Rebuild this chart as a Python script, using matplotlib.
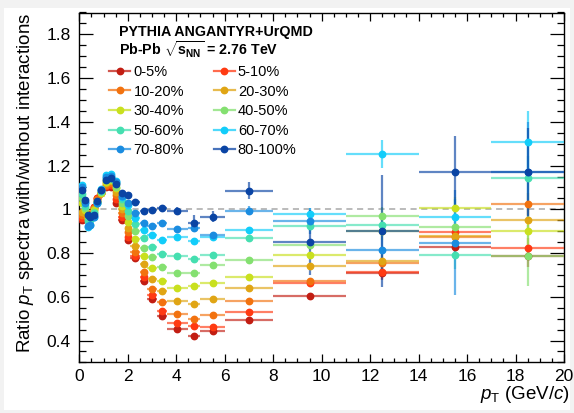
import matplotlib
matplotlib.use("Agg")
import matplotlib.pyplot as plt
from matplotlib.lines import Line2D
from matplotlib.patches import Rectangle
from matplotlib.ticker import MultipleLocator
from matplotlib.colors import to_rgba

plt.rcParams['font.family'] = ['Liberation Sans', 'DejaVu Sans']
plt.rcParams['mathtext.fontset'] = 'custom'
plt.rcParams['mathtext.rm'] = 'Liberation Sans'
plt.rcParams['mathtext.it'] = 'Liberation Sans:italic'
plt.rcParams['mathtext.bf'] = 'Liberation Sans:bold'

# ---------------- data ----------------
pt = [0.1, 0.25, 0.35, 0.45, 0.6, 0.75, 0.9, 1.1, 1.3, 1.5, 1.75, 2.0, 2.3, 2.65,
      3.0, 3.4, 4.05, 4.75, 5.5, 7.0, 9.5, 12.5, 15.5, 18.5]
pt_halfwidth = [0.05, 0.05, 0.05, 0.05, 0.1, 0.05, 0.1, 0.1, 0.1, 0.1, 0.15, 0.1, 0.2, 0.15,
                0.2, 0.2, 0.45, 0.25, 0.5, 1.0, 1.5, 1.5, 1.5, 1.5]

centrality = ["0-5%", "5-10%", "10-20%", "20-30%", "30-40%",
              "40-50%", "50-60%", "60-70%", "70-80%", "80-100%"]
colors = ["#c21d12", "#ff3a12", "#f2720f", "#e0a514", "#c9e01e",
          "#84e070", "#45dfb0", "#12cdfa", "#1a8ce0", "#0a44a4"]

ratio_0_5 = [0.95, 0.97, 0.975, 0.98, 1.01, 1.05, 1.075, 1.104, 1.104, 1.031, 0.95, 0.86, 0.776, 0.673,
             0.589, 0.513, 0.455, 0.421, 0.444, 0.493, 0.604, 0.707, 0.829, 0.788]
ratio_5_10 = [0.96, 0.975, 0.975, 0.98, 1.01, 1.05, 1.075, 1.107, 1.111, 1.046, 0.965, 0.872, 0.786, 0.689,
              0.606, 0.536, 0.482, 0.466, 0.461, 0.531, 0.664, 0.713, 0.898, 0.821]
ratio_10_20 = [0.975, 0.98, 0.97, 0.975, 1.005, 1.045, 1.075, 1.111, 1.12, 1.066, 0.985, 0.895, 0.806, 0.715,
               0.634, 0.576, 0.52, 0.50, 0.517, 0.582, 0.673, 0.753, 0.873, 1.026]
ratio_20_30 = [0.99, 0.985, 0.965, 0.97, 1.0, 1.04, 1.075, 1.12, 1.13, 1.081, 1.0, 0.916, 0.834, 0.748,
               0.682, 0.626, 0.58, 0.568, 0.589, 0.638, 0.74, 0.765, 0.88, 0.951]
ratio_30_40 = [1.03, 0.995, 0.96, 0.965, 0.995, 1.035, 1.075, 1.127, 1.134, 1.096, 1.015, 0.944, 0.866, 0.786,
               0.73, 0.672, 0.641, 0.649, 0.662, 0.692, 0.79, 0.90, 1.008, 0.899]
ratio_40_50 = [1.05, 1.005, 0.955, 0.96, 0.99, 1.035, 1.08, 1.134, 1.139, 1.104, 1.03, 0.969, 0.90, 0.824,
               0.78, 0.737, 0.707, 0.71, 0.746, 0.768, 0.835, 0.971, 0.921, 0.788]
ratio_50_60 = [1.07, 1.015, 0.945, 0.95, 0.985, 1.03, 1.085, 1.145, 1.15, 1.12, 1.045, 0.994, 0.933, 0.867,
               0.829, 0.795, 0.788, 0.773, 0.792, 0.867, 0.923, 0.927, 0.789, 1.143]
ratio_60_70 = [1.11, 1.035, 0.92, 0.93, 0.965, 1.03, 1.095, 1.157, 1.162, 1.13, 1.055, 1.018, 0.959, 0.905,
               0.881, 0.86, 0.873, 0.855, 0.875, 0.905, 0.977, 1.252, 0.966, 1.308]
ratio_70_80 = [1.10, 1.03, 0.925, 0.93, 0.965, 1.03, 1.09, 1.15, 1.154, 1.127, 1.06, 1.029, 0.982, 0.937,
               0.925, 0.936, 0.91, 0.913, 0.881, 0.994, 0.947, 0.815, 0.847, 1.169]
ratio_80_100 = [1.09, 1.043, 0.974, 0.965, 0.975, 1.04, 1.089, 1.134, 1.142, 1.115, 1.076, 1.064, 1.035, 0.992,
                0.995, 1.005, 0.994, 0.939, 0.966, 1.085, 0.849, 0.902, 1.169, 1.17]

# statistical errors: small for pT < 4 GeV/c, then per bin (4.05 ... 18.5)
err_low_pt = [0.004, 0.004, 0.004, 0.004, 0.004, 0.004, 0.004, 0.004, 0.004, 0.004,
              0.004, 0.004, 0.005, 0.005, 0.006, 0.006]
err_0_5 = [0.008, 0.008, 0.01, 0.012, 0.015, 0.03, 0.03, 0.05]
err_5_10 = [0.008, 0.008, 0.01, 0.012, 0.015, 0.03, 0.03, 0.05]
err_10_20 = [0.008, 0.008, 0.01, 0.012, 0.015, 0.03, 0.03, 0.05]
err_20_30 = [0.008, 0.008, 0.01, 0.012, 0.015, 0.03, 0.04, 0.06]
err_30_40 = [0.008, 0.008, 0.01, 0.012, 0.015, 0.04, 0.05, 0.07]
err_40_50 = [0.008, 0.008, 0.01, 0.012, 0.02, 0.04, 0.06, 0.14]
err_50_60 = [0.008, 0.01, 0.01, 0.015, 0.02, 0.05, 0.06, 0.10]
err_60_70 = [0.008, 0.01, 0.012, 0.015, 0.03, 0.065, 0.08, 0.14]
err_70_80 = [0.01, 0.015, 0.015, 0.02, 0.06, 0.10, 0.24, 0.23]
err_80_100 = [0.015, 0.035, 0.025, 0.04, 0.15, 0.255, 0.165, 0.2]

series = [ratio_0_5, ratio_5_10, ratio_10_20, ratio_20_30, ratio_30_40,
          ratio_40_50, ratio_50_60, ratio_60_70, ratio_70_80, ratio_80_100]
errors = [err_0_5, err_5_10, err_10_20, err_20_30, err_30_40,
          err_40_50, err_50_60, err_60_70, err_70_80, err_80_100]

# ---------------- figure ----------------
W, H = 574, 413
fig = plt.figure(figsize=(W / 100, H / 100), dpi=100, facecolor="#f2f2f2")
fig.patches.append(Rectangle((4 / W, 3 / H), (566) / W, (402) / H, transform=fig.transFigure,
                             facecolor="white", edgecolor="none", zorder=-10))
ax = fig.add_axes([79.3 / W, 1 - 362.4 / H, (564 - 79.3) / W, (362.4 - 12.5) / H])
ax.set_facecolor("white")

ax.axhline(1.0, color="#a8a8a8", lw=1.1, ls=(0, (4, 3)), zorder=1)

for vals, errs, col in zip(series, errors, colors):
    yerr = err_low_pt + errs
    ax.errorbar(pt, vals, xerr=pt_halfwidth, yerr=yerr, fmt="o", ms=4.6,
                color=col, mec=col, mfc=col, ecolor=to_rgba(col, 0.65),
                elinewidth=1.6, capsize=0, zorder=3)

ax.set_xlim(0, 20)
ax.set_ylim(0.3, 1.9)
ax.xaxis.set_major_locator(MultipleLocator(2))
ax.xaxis.set_minor_locator(MultipleLocator(0.5))
ax.yaxis.set_major_locator(MultipleLocator(0.2))
ax.yaxis.set_minor_locator(MultipleLocator(0.05))
ax.set_yticks([0.4, 0.6, 0.8, 1.0, 1.2, 1.4, 1.6, 1.8])
ax.set_yticklabels(["0.4", "0.6", "0.8", "1", "1.2", "1.4", "1.6", "1.8"])
ax.tick_params(axis="both", which="both", direction="in", top=True, right=True,
               labelsize=12.5, colors="black", width=0.9)
ax.tick_params(axis="x", which="major", length=6, pad=5)
ax.tick_params(axis="x", which="minor", length=3)
ax.tick_params(axis="y", which="major", length=10, pad=6)
ax.tick_params(axis="y", which="minor", length=5)
for s in ax.spines.values():
    s.set_linewidth(1.0)

ax.set_xlabel(r"$p_{\mathrm{T}}$ (GeV/$c$)", fontsize=13.5, loc="right", labelpad=2)
ax.xaxis.set_label_coords(1.012, -0.062)
ax.set_ylabel(r"Ratio $p_{\mathrm{T}}$ spectra with/without interactions", fontsize=13.5,
              loc="top", labelpad=8)

ax.text(0.081, 0.945, "PYTHIA ANGANTYR+UrQMD", transform=ax.transAxes, fontsize=10.3,
        fontweight="bold", va="center", ha="left")
ax.text(0.081, 0.893, r"Pb-Pb $\mathbf{\sqrt{s_{NN}}}$ = 2.76 TeV", transform=ax.transAxes,
        fontsize=10.3, fontweight="bold", va="center", ha="left")

# legend filled row-wise: (0-5, 5-10), (10-20, 20-30), ...
order = [0, 2, 4, 6, 8, 1, 3, 5, 7, 9]
handles = [Line2D([], [], color=to_rgba(colors[i], 0.75), lw=1.6, marker="o", ms=4.6,
                  mfc=colors[i], mec=colors[i]) for i in order]
labels = [centrality[i] for i in order]
leg = ax.legend(handles, labels, ncol=2, loc="upper left",
                bbox_to_anchor=(0.062, 0.85), frameon=False, fontsize=10.5,
                handlelength=1.45, handletextpad=0.2, columnspacing=2.05,
                labelspacing=0.38, borderaxespad=0.0, borderpad=0.0)

fig.savefig("out.png", dpi=100, facecolor=fig.get_facecolor())
